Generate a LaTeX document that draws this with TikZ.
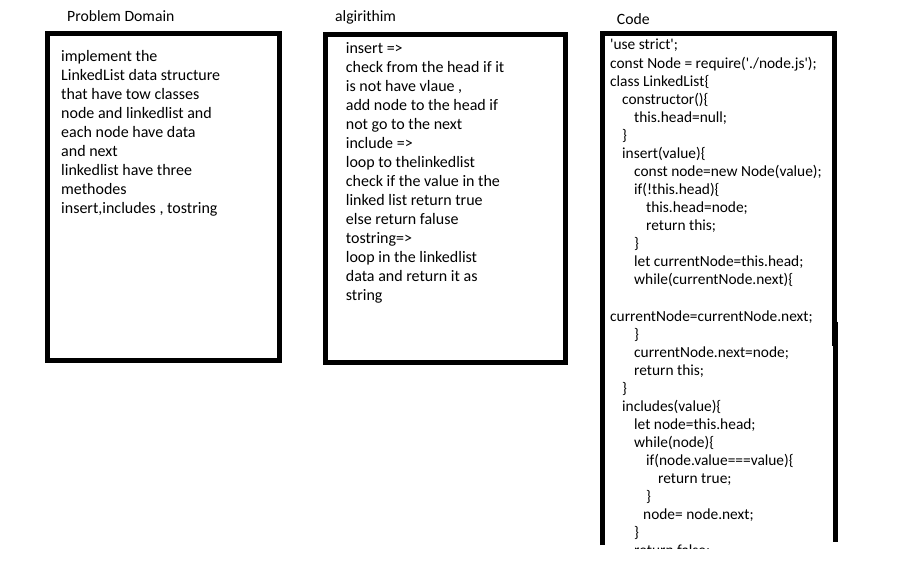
\documentclass[tikz,border=0pt]{standalone}
\usepackage{fontspec}
\setmainfont{Carlito}
\begin{document}
\begin{tikzpicture}[x=1bp,y=-1bp,
  frame/.style={draw=black,line width=5bp,line join=miter},
  boxnode/.style={frame,inner sep=0pt,outer sep=0pt,anchor=north west},
  ttl/.style={anchor=base west,inner sep=0pt,font=\fontsize{15.7bp}{19bp}\selectfont},
  txt/.style={anchor=base west,inner sep=0pt,font=\fontsize{16bp}{19bp}\selectfont},
  code/.style={anchor=base west,inner sep=0pt,font=\fontsize{15.4bp}{18bp}\selectfont}]
\useasboundingbox[fill=white] (0,0) rectangle (913,561);
% titles
\node[ttl] (t1) at (67,21.7) {Problem Domain};
\node[ttl] (t2) at (335,21.7) {algirithim};
\node[ttl] (t3) at (616.7,25) {Code};
% boxes
\node[boxnode,minimum width=231.5bp,minimum height=326.5bp] (pdbox) at (47.5,34) {};
\node[boxnode,minimum width=240bp,minimum height=328bp] (algbox) at (325.5,34.5) {};
\coordinate (cbl) at (602.5,545);
\coordinate (ctl) at (602.5,34);
\coordinate (ctr) at (834.5,34);
\coordinate (cmr) at (834.5,346);
\coordinate (cmr2) at (835.5,322);
\coordinate (cbr) at (835.5,541.5);
\draw[frame] (cbl) -- (ctl) -- (ctr) -- (cmr);
\draw[frame] (cmr2) -- (cbr);
% problem domain text
\foreach \i/\s in {0/implement the,1/LinkedList data structure,2/that have tow classes,3/node and linkedlist and,4/each node have data,5/and next,6/linkedlist have three,7/methodes,8/{insert,includes , tostring}}
  \node[txt] (pd\i) at (61,61.5+19*\i) {\s};
% algorithm text
\foreach \i/\s in {0/{insert =>},1/check from the head if it,2/{is not have vlaue ,},3/add node to the head if,4/not go to the next,5/{include =>},6/loop to thelinkedlist,7/check if the value in the,8/linked list return true,9/else return faluse,10/{tostring=>},11/loop in the linkedlist,12/data and return it as,13/string}
  \node[txt] (al\i) at (345.7,53.3+19*\i) {\s};
% code text
\begin{scope}
\clip (600,36) rectangle (840,548.5);
\newcommand\cl[3]{\node[code] (c#1) at (610+12*#2,50+18.07*#1) {#3};}
\cl{0}{0}{\textquotesingle use strict\textquotesingle;}
\cl{1}{0}{const Node = require(\textquotesingle./node.js\textquotesingle);}
\cl{2}{0}{class LinkedList\{}
\cl{3}{1}{constructor()\{}
\cl{4}{2}{this.head=null;}
\cl{5}{1}{\}}
\cl{6}{1}{insert(value)\{}
\cl{7}{2}{const node=new Node(value);}
\cl{8}{2}{if(!this.head)\{}
\cl{9}{3}{this.head=node;}
\cl{10}{3}{return this;}
\cl{11}{2}{\}}
\cl{12}{2}{let currentNode=this.head;}
\cl{13}{2}{while(currentNode.next)\{}
\cl{15}{0}{currentNode=currentNode.next;}
\cl{16}{2}{\}}
\cl{17}{2}{currentNode.next=node;}
\cl{18}{2}{return this;}
\cl{19}{1}{\}}
\cl{20}{1}{includes(value)\{}
\cl{21}{2}{let node=this.head;}
\cl{22}{2}{while(node)\{}
\cl{23}{3}{if(node.value===value)\{}
\cl{24}{4}{return true;}
\cl{25}{3}{\}}
\cl{26}{2.75}{node= node.next;}
\cl{27}{2}{\}}
\cl{28}{2}{return false;}
\end{scope}
\end{tikzpicture}
\end{document}
